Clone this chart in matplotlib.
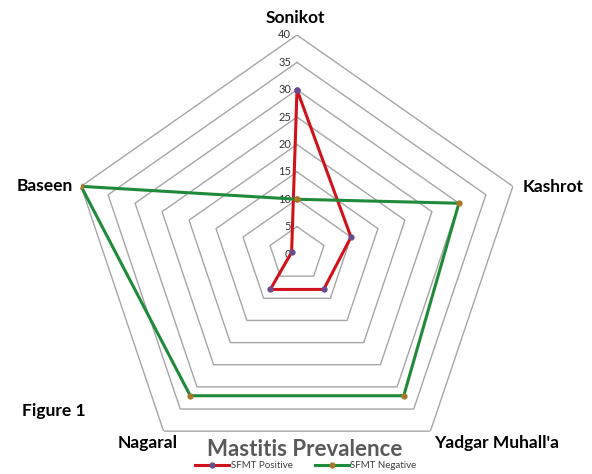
import numpy as np
import matplotlib.pyplot as plt

# data
sites = ['Sonikot', 'Kashrot', "Yadgar Muhall'a", 'Nagaral', 'Baseen']
sfmt_positive = [30, 10, 8, 8, 1]
sfmt_negative = [10, 30, 32, 32, 40]
r_ticks = [0, 5, 10, 15, 20, 25, 30, 35, 40]

plt.rcParams['font.family'] = ['Lato', 'DejaVu Sans']

W, H = 592, 474
cx, cy, rx, ry = 297, 254, 227, 219

fig = plt.figure(figsize=(W / 100, H / 100), dpi=100)
ax = fig.add_axes([(cx - rx) / W, 1 - (cy + ry) / H, 2 * rx / W, 2 * ry / H],
                  projection='polar')
ax.set_aspect('auto')  # the original image is slightly stretched sideways

# angles: first category on top, going clockwise
n = len(sites)
theta = np.pi / 2 - np.arange(n) * 2 * np.pi / n
theta_closed = np.append(theta, theta[0])

ax.set_ylim(0, 40)
ax.grid(False)
ax.spines['polar'].set_visible(False)
ax.set_xticks([])
ax.set_yticks([])
ax.patch.set_alpha(0)

# pentagon gridlines
for v in r_ticks[1:]:
    ax.plot(theta_closed, [v] * (n + 1), color='#a6a6a6', lw=1.0, zorder=1)

# radial tick labels along the first axis
for v in r_ticks:
    ax.annotate(str(v), xy=(theta[0], v), xytext=(-6, 0), textcoords='offset pixels',
                ha='right', va='center', fontsize=8, color='#333333')

# series
pos = np.append(sfmt_positive, sfmt_positive[0])
neg = np.append(sfmt_negative, sfmt_negative[0])
ax.plot(theta_closed, pos, color='#d0121b', lw=2.2, marker='o', ms=3.5,
        mfc='#6a4c8c', mec='#6a4c8c', label='SFMT Positive', zorder=3)
ax.plot(theta_closed, neg, color='#1f8a3a', lw=2.2, marker='o', ms=3.5,
        mfc='#a8782a', mec='#a8782a', label='SFMT Negative', zorder=3)

# category labels
offsets = [(-2, 17, 'center', 'center'),
           (10, -1, 'left', 'center'),
           (4, -12, 'left', 'center'),
           (14, -12, 'right', 'center'),
           (-8, 0, 'right', 'center')]
for t, name, (dx, dy, ha, va) in zip(theta, sites, offsets):
    ax.annotate(name, xy=(t, 40), xytext=(dx, dy), textcoords='offset pixels',
                ha=ha, va=va, fontsize=12.5, fontweight='bold', color='black')

fig.text(22 / W, 1 - 411 / H, 'Figure 1', fontsize=12.5, fontweight='bold',
         ha='left', va='center')
fig.text(305 / W, 1 - 450 / H, 'Mastitis Prevalence', fontsize=16,
         fontweight='bold', color='#595959', ha='center', va='center')

fig.legend(loc='center', bbox_to_anchor=(306 / W, 1 - 466 / H), ncol=2,
           frameon=False, fontsize=7, handlelength=3.5, columnspacing=2.2,
           labelcolor='#404040', borderpad=0, handletextpad=0.2)

fig.savefig('out.png', dpi=100)
